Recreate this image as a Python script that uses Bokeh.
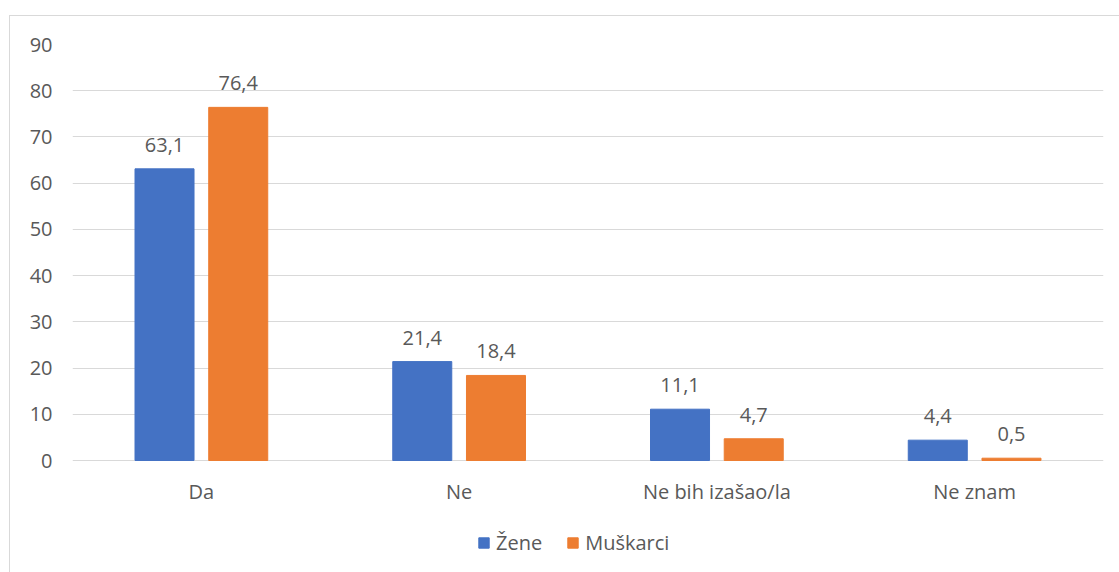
from bokeh.plotting import figure
from bokeh.models import (ColumnDataSource, FactorRange, Range1d, Legend, LegendItem,
                          LabelSet, FixedTicker)
from bokeh.transform import dodge
from bokeh.core.properties import value
from bokeh.embed import file_html
from bokeh.resources import INLINE

categories = ["Da", "Ne", "Ne bih izašao/la", "Ne znam"]
zene = [63.1, 21.4, 11.1, 4.4]
muskarci = [76.4, 18.4, 4.7, 0.5]
series_names = ["Žene", "Muškarci"]
y_ticks = [0, 10, 20, 30, 40, 50, 60, 70, 80, 90]

FONT = "Open Sans"
TEXT = "#595959"
BLUE = "#4472C4"
ORANGE = "#ED7D31"
FS = "20px"

# layout: frame top at 44px (value 90), value 0 at 460px, canvas bottom at 572px
W_PX, H_PX = 1119, 572
TOP_PX, ZERO_PX = 44, 460
px_per_unit = (ZERO_PX - TOP_PX) / y_ticks[-1]
y_lo = -(H_PX - ZERO_PX) / px_per_unit


def fmt(v):
    return f"{v:.1f}".replace(".", ",")


src = ColumnDataSource(dict(
    cat=categories, z=zene, m=muskarci,
    zl=[fmt(v) for v in zene], ml=[fmt(v) for v in muskarci],
))

p = figure(x_range=FactorRange(*categories), y_range=Range1d(y_lo, y_ticks[-1]),
           x_axis_location=None,
           width=W_PX, height=H_PX, output_backend="svg", toolbar_location=None,
           min_border_left=72, min_border_right=16, min_border_top=TOP_PX,
           min_border_bottom=0)

OFF = 0.143
W = 0.229
r1 = p.vbar(x=dodge("cat", -OFF, range=p.x_range), top="z", width=W, source=src,
            fill_color=BLUE, line_color=BLUE)
r2 = p.vbar(x=dodge("cat", OFF, range=p.x_range), top="m", width=W, source=src,
            fill_color=ORANGE, line_color=ORANGE)

for col, lab, off in (("z", "zl", -OFF), ("m", "ml", OFF)):
    ls = LabelSet(x=dodge("cat", off, range=p.x_range), y=col, text=lab, source=src,
                  text_align="center", text_baseline="alphabetic", y_offset=17,
                  text_font=value(FONT), text_font_size=value(FS), text_color=TEXT)
    p.add_layout(ls)

# category labels below the zero line
cat_labels = LabelSet(x="cat", y=0, text="cat", source=src,
                      text_align="center", text_baseline="alphabetic", y_offset=-38,
                      text_font=value(FONT), text_font_size=value(FS), text_color=TEXT)
p.add_layout(cat_labels)

p.yaxis.ticker = FixedTicker(ticks=y_ticks)
ax = p.yaxis
ax.axis_line_color = None
ax.major_tick_line_color = None
ax.minor_tick_line_color = None
ax.major_tick_in = 0
ax.major_tick_out = 0
ax.major_label_text_font = FONT
ax.major_label_text_font_size = FS
ax.major_label_text_color = TEXT
ax.major_label_standoff = 20

p.xgrid.grid_line_color = None
p.ygrid.grid_line_color = "#d9d9d9"
p.ygrid.grid_line_width = 1
p.outline_line_color = None
p.background_fill_color = "white"
p.border_fill_color = None
p.styles = {
    "background": ("linear-gradient(#d9d9d9,#d9d9d9) 9px 15px / 1px 100% no-repeat, "
                   "linear-gradient(#d9d9d9,#d9d9d9) 9px 15px / 100% 1px no-repeat, white"),
}

legend = Legend(items=[LegendItem(label=series_names[0], renderers=[r1]),
                       LegendItem(label=series_names[1], renderers=[r2])],
                orientation="horizontal", location=(405, 16),
                glyph_width=13, glyph_height=13, label_standoff=6, spacing=24,
                padding=0, margin=0, border_line_color=None,
                background_fill_alpha=0,
                label_text_font=FONT, label_text_font_size=FS,
                label_text_color=TEXT)
p.add_layout(legend, "center")

open("out.html", "w").write(file_html(p, INLINE))
